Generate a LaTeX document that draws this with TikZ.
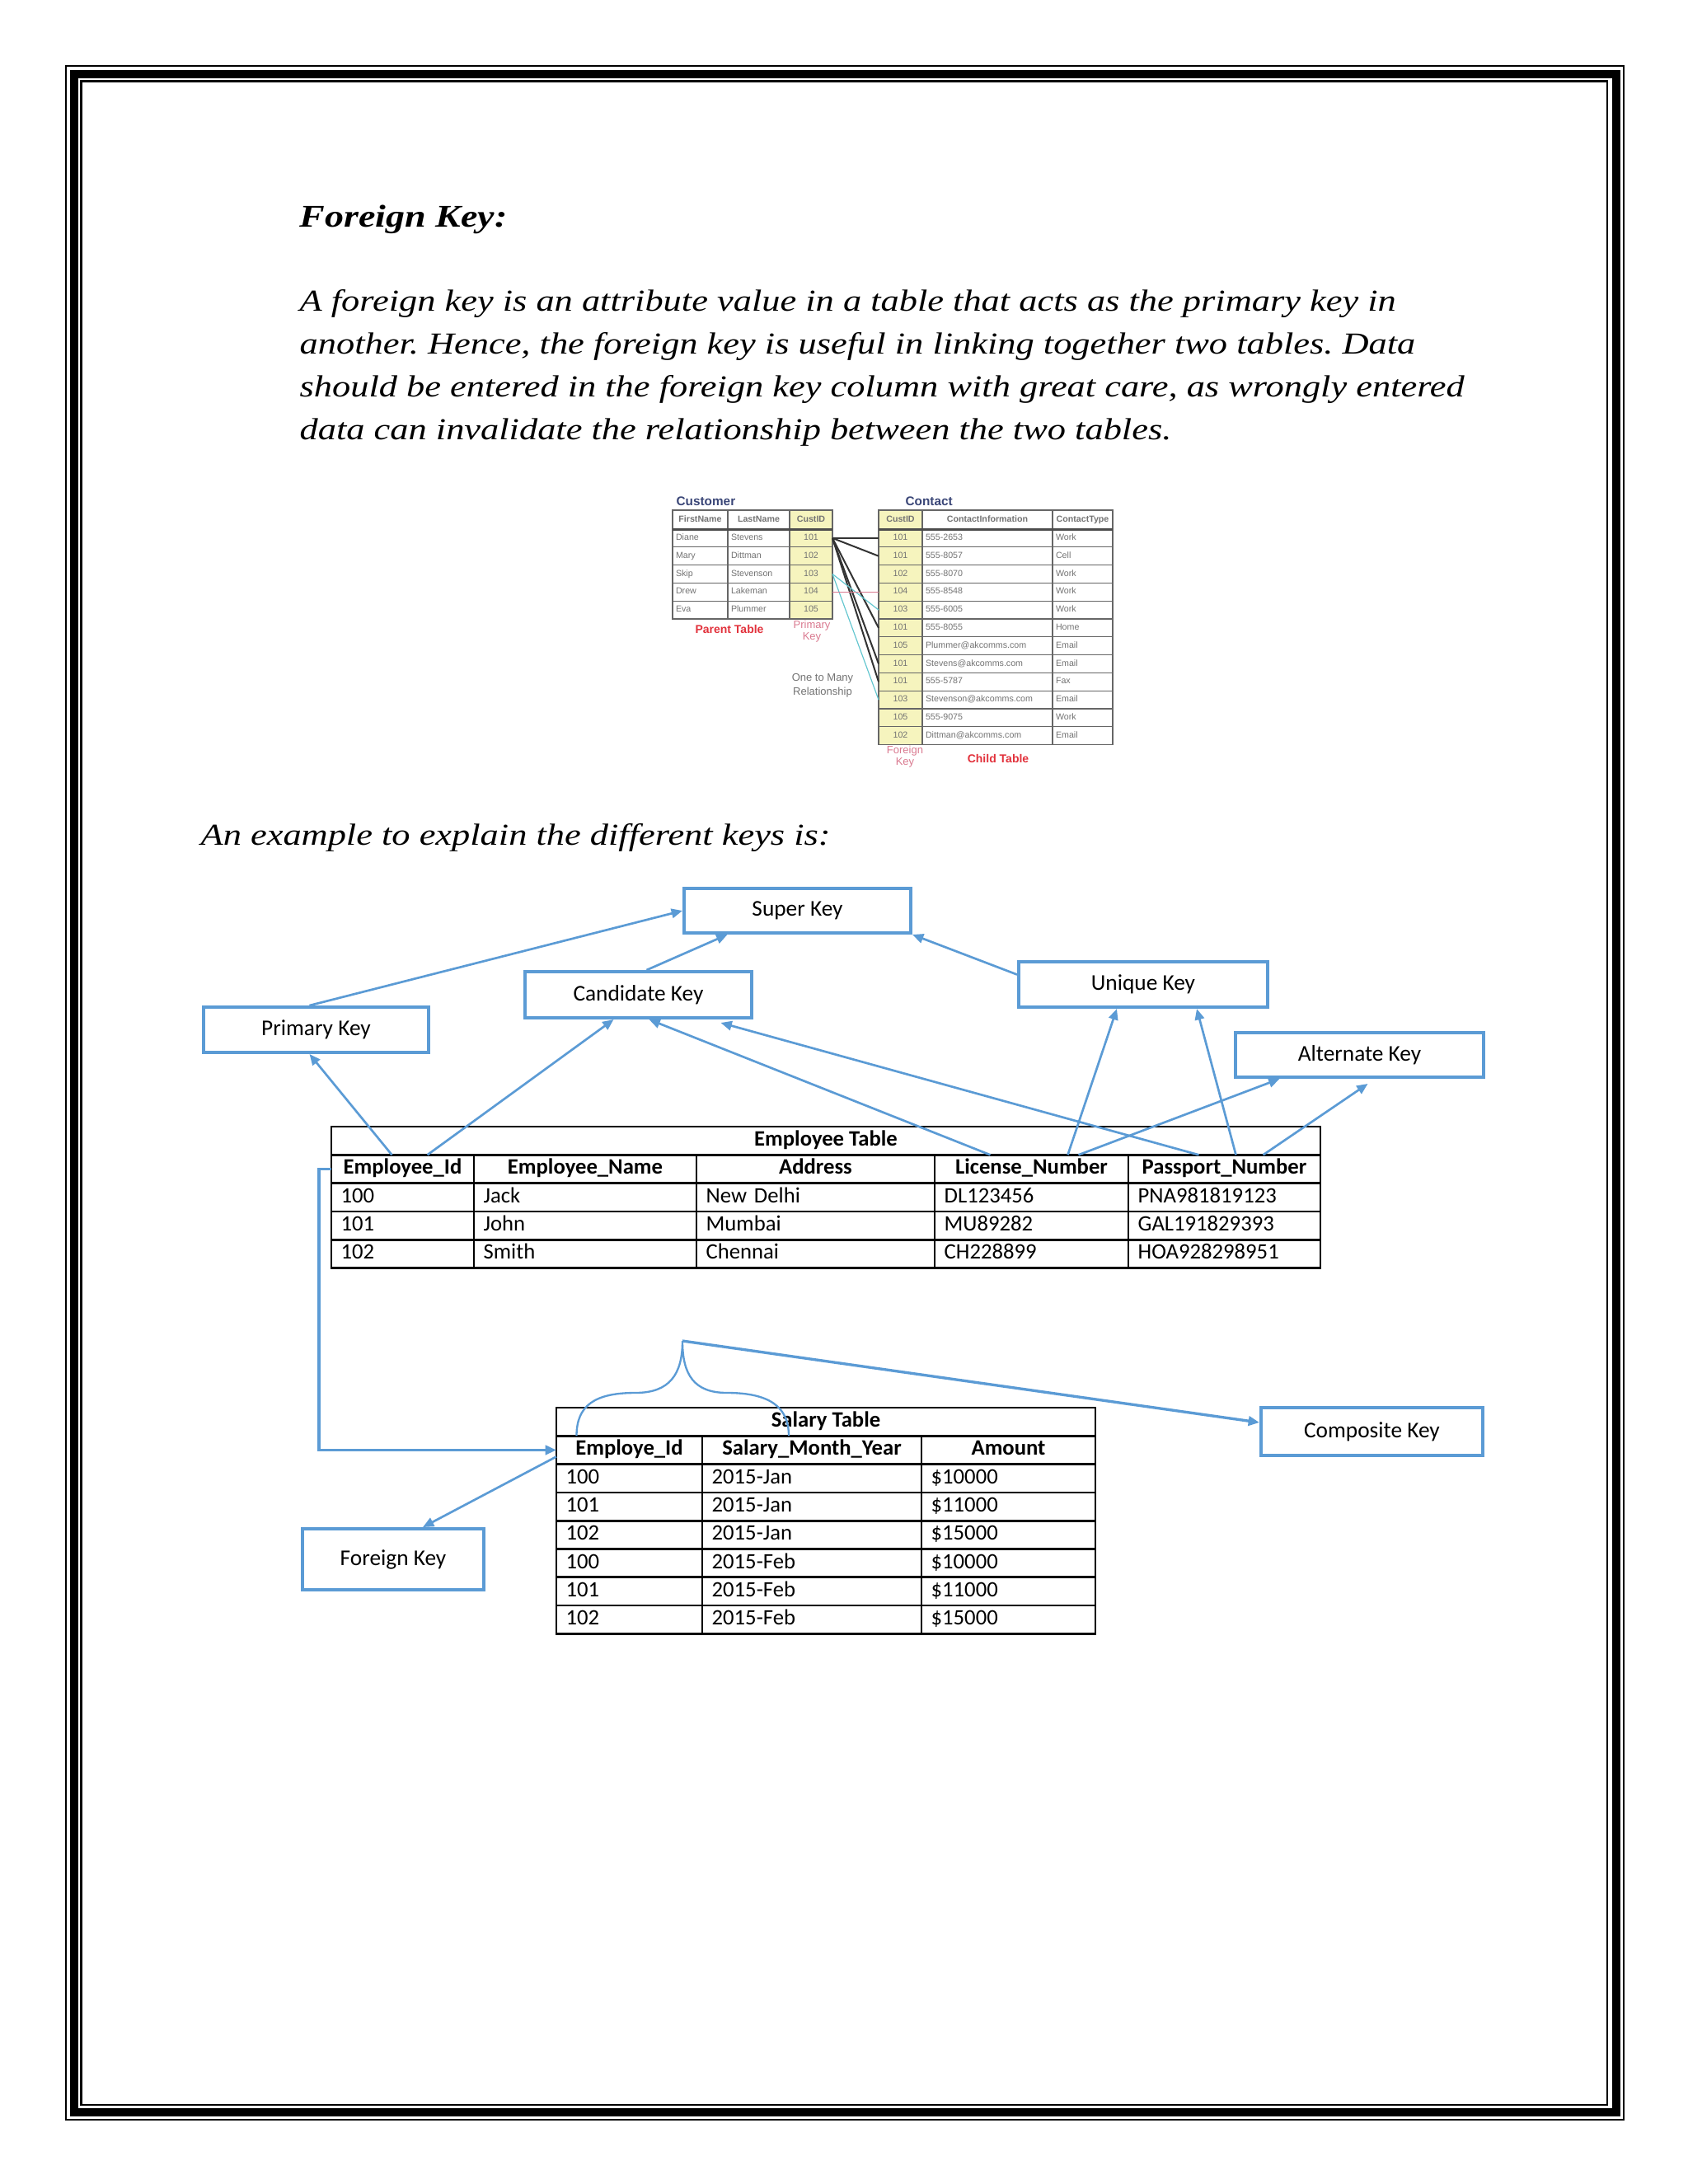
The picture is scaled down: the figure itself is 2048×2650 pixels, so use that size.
\documentclass[tikz,border=0pt]{standalone}
\usepackage{fontspec}
\usepackage{tikz}
\usetikzlibrary{arrows.meta,positioning,calc}
\newfontfamily\docfont{Liberation Serif}[FakeStretch=1.2]
\newfontfamily\diagfont{Carlito}
\newfontfamily\shotfont{Liberation Sans}
\definecolor{KeyBlue}{HTML}{5B9BD5}
\definecolor{ShotYellow}{HTML}{F6F4BE}
\definecolor{ShotNavy}{HTML}{3A4677}
\definecolor{ShotRed}{HTML}{E2323C}
\definecolor{ShotPink}{HTML}{DA7A90}
\definecolor{ShotCyan}{HTML}{62C6CF}
\newdimen\px \px=0.3pt
\frenchspacing
\tikzset{
    kb/.style 2 args={draw=KeyBlue,line width=1.2pt,minimum width=#1*\px,minimum height=#2*\px,inner sep=0pt,font=\diagfont\fontsize{8.2}{10}\selectfont},
    a/.style={-{Triangle[length=4pt,width=3.4pt]},line width=0.8pt,draw=KeyBlue},
    tc/.style={draw,line width=0.8pt,outer sep=0pt,inner sep=0pt,minimum height=34.3*\px,text height=5.8pt,text depth=1.9pt},
    th/.style={tc,minimum width=#1*\px,font=\diagfont\bfseries\fontsize{8}{9.6}\selectfont},
    td/.style={tc,text width=#1*\px-7pt,inner xsep=3.5pt,align=left,font=\diagfont\fontsize{8}{9.6}\selectfont},
    sc/.style={draw=black!60,line width=0.35pt,outer sep=0pt,inner sep=0pt,minimum height=21.8*\px,text height=2.3pt,text depth=0.8pt,text=black!55,font=\shotfont\fontsize{3.2}{3.8}\selectfont},
    sh/.style={sc,minimum height=23*\px,minimum width=#1*\px,font=\shotfont\bfseries\fontsize{3.2}{3.8}\selectfont},
    sm/.style={sc,minimum width=#1*\px},
    sd/.style={sc,text width=#1*\px-2.4pt,inner xsep=1.2pt,align=left},
    sl/.style={line width=0.6pt,draw=black!80}}

\begin{document}
\begin{tikzpicture}[x=0.3pt,y=-0.3pt]
  \fill[white] (0,0) rectangle (2048,2650);
  \useasboundingbox (0,0) rectangle (2048,2650);
  % page frame
  \draw[line width=0.6pt] (80,80) rectangle (1970,2572);
  \draw[line width=3pt] (90,90) rectangle (1960.5,2563);
  \draw[line width=0.75pt] (98.5,98.5) rectangle (1950,2554);

  % text
  \node[anchor=base west,inner sep=0pt,font=\docfont\bfseries\itshape\fontsize{11.5}{14}\selectfont] (ttl) at (363,275) {Foreign Key:};
  \node[anchor=base west,inner sep=0pt,align=left,font=\docfont\itshape\fontsize{11.1}{15.6}\selectfont] (para) at (363,533)
    {A foreign key is an attribute value in a table that acts as the primary key in\\
     another. Hence, the foreign key is useful in linking together two tables. Data\\
     should be entered in the foreign key column with great care, as wrongly entered\\
     data can invalidate the relationship between the two tables.};
  \node[anchor=base west,inner sep=0pt,font=\docfont\itshape\fontsize{11.1}{15.6}\selectfont] (expl) at (243,1025) {An example to explain the different keys is:};

  % customer / contact screenshot
  \node[anchor=base west,inner sep=0pt,text=ShotNavy,font=\shotfont\bfseries\fontsize{4.6}{5}\selectfont] (custlbl) at (820,613) {Customer};
  \node[anchor=base west,inner sep=0pt,text=ShotNavy,font=\shotfont\bfseries\fontsize{4.6}{5}\selectfont] (contlbl) at (1098,613) {Contact};
  \node[sh=67,anchor=north west] (cuh1) at (816,619) {FirstName};
  \node[sh=75,right=0pt of cuh1] (cuh2) {LastName};
  \node[sh=52,right=0pt of cuh2,fill=ShotYellow] (cuh3) {CustID};
  \foreach \fn/\ln/\cid [count=\i] in {Diane/Stevens/101,Mary/Dittman/102,Skip/Stevenson/103,Drew/Lakeman/104,Eva/Plummer/105}{
    \node[sd=67,anchor=north west] (cf\i) at (816,{642+21.8*(\i-1)}) {\fn};
    \node[sd=75,right=0pt of cf\i] (cl\i) {\ln};
    \node[sm=52,right=0pt of cl\i,fill=ShotYellow] (cu\i) {\cid};
  }
  \node[sh=53,anchor=north west,fill=ShotYellow] (coh1) at (1066,619) {CustID};
  \node[sh=158,right=0pt of coh1] (coh2) {ContactInformation};
  \node[sh=73,right=0pt of coh2] (coh3) {ContactType};
  \foreach \cid/\inf/\typ [count=\i] in {101/555-2653/Work,101/555-8057/Cell,102/555-8070/Work,104/555-8548/Work,103/555-6005/Work,101/555-8055/Home,105/Plummer@akcomms.com/Email,101/Stevens@akcomms.com/Email,101/555-5787/Fax,103/Stevenson@akcomms.com/Email,105/555-9075/Work,102/Dittman@akcomms.com/Email}{
    \node[sm=53,anchor=north west,fill=ShotYellow] (co\i) at (1066,{642+21.8*(\i-1)}) {\cid};
    \node[sd=158,right=0pt of co\i] (ci\i) {\inf};
    \node[sd=73,right=0pt of ci\i] (ct\i) {\typ};
  }
  \draw[line width=0.9pt,black!70] (cuh1.south west) -- (cuh3.south east);
  \draw[line width=0.9pt,black!70] (coh1.south west) -- (coh3.south east);
  \foreach \k in {1,2,6,8,9} \draw[sl] (cu1.east) -- (co\k.west);
  \foreach \k in {5,10} \draw[sl,draw=ShotCyan,line width=0.35pt] (cu3.east) -- (co\k.west);
  \draw[sl,draw=ShotPink,line width=0.4pt] (cu4.east) -- (co4.west);
  \node[text=ShotRed,inner sep=0pt,font=\shotfont\bfseries\fontsize{4.2}{5}\selectfont] (parlbl) at (885,763) {Parent Table};
  \node[text=ShotPink,inner sep=0pt,align=center,font=\shotfont\fontsize{3.9}{4.4}\selectfont] (pklbl) at (985,766) {Primary\\Key};
  \node[text=black!55,inner sep=0pt,align=center,font=\shotfont\fontsize{3.9}{5.2}\selectfont] (rellbl) at (998,832) {One to Many\\Relationship};
  \node[text=ShotPink,inner sep=0pt,align=center,font=\shotfont\fontsize{3.9}{4.4}\selectfont] (fklbl) at (1098,918) {Foreign\\Key};
  \node[text=ShotRed,inner sep=0pt,font=\shotfont\bfseries\fontsize{4.2}{5}\selectfont] (chlbl) at (1211,920) {Child Table};

  % key boxes
  \node[kb={275}{54}] (sk) at (967.5,1105) {Super Key};
  \node[kb={275}{56}] (ck) at (774.5,1207) {Candidate Key};
  \node[kb={273}{55}] (pk) at (383.5,1249.5) {Primary Key};
  \node[kb={302}{55}] (uk) at (1387,1194.5) {Unique Key};
  \node[kb={301}{54}] (ak) at (1649.5,1280) {Alternate Key};
  \node[kb={269}{58}] (cpk) at (1664.5,1737) {Composite Key};
  \node[kb={220}{74}] (fk) at (477,1892) {Foreign Key};

  % employee table
  \node[th=1200,anchor=north west] (etab) at (402,1367) {Employee Table};
  \node[th=173,anchor=north west] (eid) at (402,1401.3) {Employee\_Id};
  \node[th=270,right=0pt of eid] (ename) {Employee\_Name};
  \node[th=289,right=0pt of ename] (eadr) {Address};
  \node[th=235,right=0pt of eadr] (elic) {License\_Number};
  \node[th=233,right=0pt of elic] (epass) {Passport\_Number};
  \foreach \id/\nm/\ad/\li/\pa [count=\i] in {100/Jack/New Delhi/DL123456/PNA981819123,101/John/Mumbai/MU89282/GAL191829393,102/Smith/Chennai/CH228899/HOA928298951}{
    \node[td=173,anchor=north west] (e\i-1) at (402,{1367+34.3*(\i+1)}) {\id};
    \node[td=270,right=0pt of e\i-1] (e\i-2) {\nm};
    \node[td=289,right=0pt of e\i-2] (e\i-3) {\ad};
    \node[td=235,right=0pt of e\i-3] (e\i-4) {\li};
    \node[td=233,right=0pt of e\i-4] (e\i-5) {\pa};
  }

  % salary table
  \node[th=654,anchor=north west] (stab) at (675,1708) {Salary Table};
  \node[th=177,anchor=north west] (sid) at (675,1742.3) {Employe\_Id};
  \node[th=266,right=0pt of sid] (ssmy) {Salary\_Month\_Year};
  \node[th=211,right=0pt of ssmy] (samt) {Amount};
  \foreach \id/\mo/\am [count=\i] in {100/2015-Jan/\$10000,101/2015-Jan/\$11000,102/2015-Jan/\$15000,100/2015-Feb/\$10000,101/2015-Feb/\$11000,102/2015-Feb/\$15000}{
    \node[td=177,anchor=north west] (s\i-1) at (675,{1708+34.3*(\i+1)}) {\id};
    \node[td=266,right=0pt of s\i-1] (s\i-2) {\mo};
    \node[td=211,right=0pt of s\i-2] (s\i-3) {\am};
  }

  % connectors
  \draw[a] ($(pk.north)+(-8,0)$) -- (sk.west);
  \draw[a] ($(ck.north)+(10,0)$) -- ($(sk.south)+(-85,0)$);
  \draw[a] ($(uk.west)+(0,-12)$) -- (sk.south east);
  \draw[a] ($(eid.north)+(-13,0)$) -- ($(pk.south)+(-8,0)$);
  \draw[a] ($(eid.north)+(30,0)$) -- ($(ck.south)+(-30,0)$);
  \draw[a] ($(elic.north)+(-50,0)$) -- ($(ck.south)+(13,0)$);
  \draw[a] ($(epass.north)+(-31,0)$) -- ($(ck.south)+(100,4)$);
  \draw[a] ($(elic.north)+(44,0)$) -- ($(uk.south)+(-32,0)$);
  \draw[a] ($(epass.north)+(14,0)$) -- ($(uk.south)+(65,0)$);
  \draw[a] ($(elic.north)+(57,0)$) -- ($(ak.south)+(-97,0)$);
  \draw[a] ($(epass.north)+(47,0)$) -- ($(ak.south)+(10,6)$);
  \draw[a,line width=1pt] (eid.west) -- ++(-15,0) |- (sid.west);
  \draw[a] ($(sid.west)+(0,8)$) -- ($(fk.north)+(36,0)$);
  % composite brace
  \coordinate (brl) at ($(sid.north)+(-64,0)$);
  \coordinate (brr) at ($(ssmy.north)+(-28,0)$);
  \coordinate (brtip) at (828,1627);
  \draw[KeyBlue,line width=0.7pt] (brl) .. controls (699.5,1705) and (722,1690) .. (771,1690)
    .. controls (812,1690) and (828,1668) .. (brtip)
    .. controls (828,1668) and (842,1690) .. (882,1690)
    .. controls (935,1690) and (957,1708) .. (brr);
  \draw[a,line width=1pt] (brtip) -- ($(cpk.west)+(0,-11)$);
\end{tikzpicture}
\end{document}
